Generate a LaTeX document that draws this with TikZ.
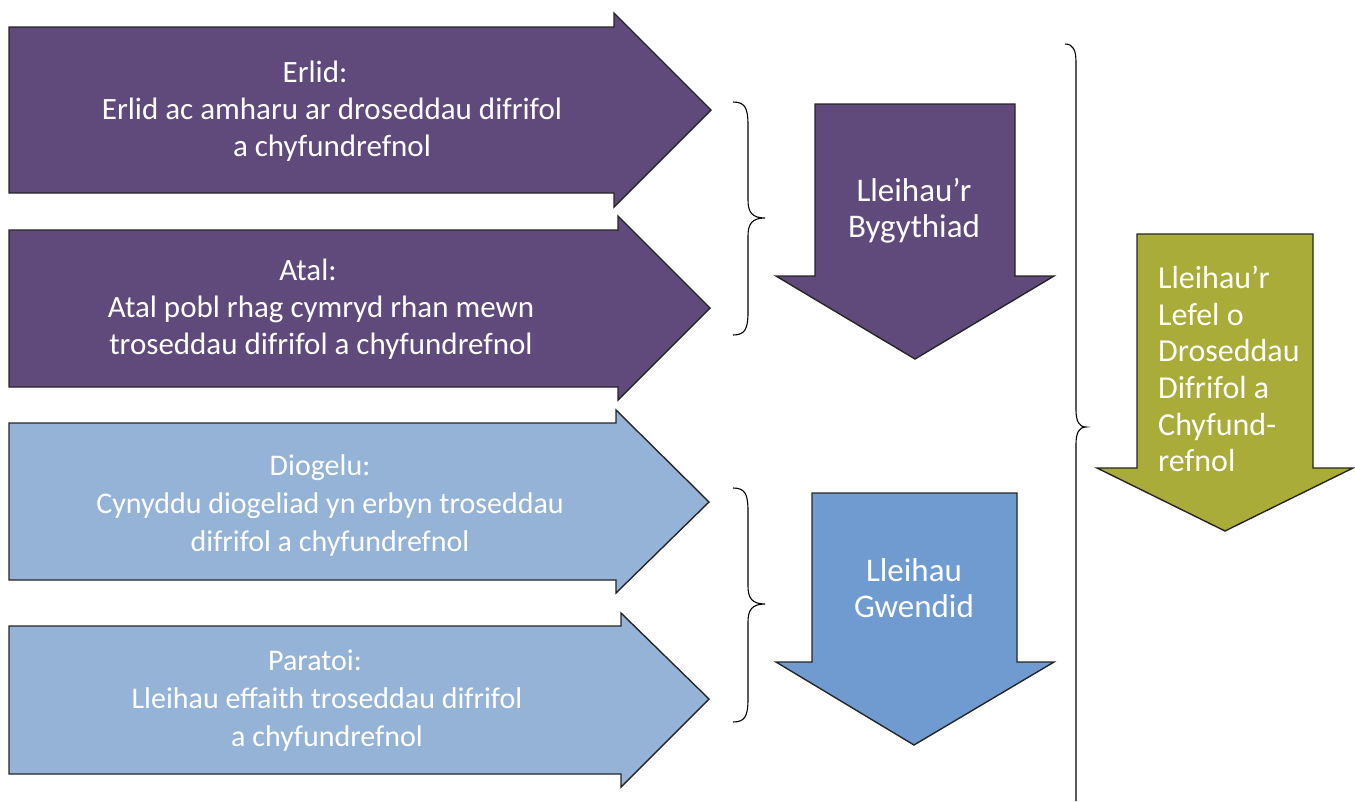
\documentclass[tikz,border=0pt]{standalone}
\usepackage{fontspec}
\setmainfont{Carlito}
\definecolor{purp}{HTML}{604A7B}
\definecolor{lblue}{HTML}{95B3D7}
\definecolor{mblue}{HTML}{6F9BD0}
\definecolor{olive}{HTML}{A9AC38}
\begin{document}
\begin{tikzpicture}[x=1pt,y=-1pt,
  shapeline/.style={draw=black!85,line width=1.4pt,line join=miter},
  bracepath/.style={draw=black,line width=1.1pt},
  lbl/.style={text=white,font=\fontsize{31}{37}\selectfont,align=center,inner sep=0pt},
  lblb/.style={lbl,font=\fontsize{30}{38}\selectfont},
  lbld/.style={lbl,font=\fontsize{33}{36}\selectfont},
  lblg/.style={lbl,font=\fontsize{32}{36.7}\selectfont}]
\useasboundingbox (0,0) rectangle (1355,801);
% purple arrows right
\path[shapeline,fill=purp] (9,27) -- (614,27) -- (614,13) -- (711,110) -- (614,207) -- (614,193) -- (9,193) -- cycle;
\path[shapeline,fill=purp] (9,230) -- (618,230) -- (618,216) -- (710,308) -- (618,400) -- (618,387) -- (9,387) -- cycle;
% blue arrows right
\path[shapeline,fill=lblue] (9,423) -- (616,423) -- (616,410) -- (709,502) -- (616,593) -- (616,580) -- (9,580) -- cycle;
\path[shapeline,fill=lblue] (9,626) -- (621,626) -- (621,613) -- (709,699) -- (621,787) -- (621,774) -- (9,774) -- cycle;
% down arrows
\path[shapeline,fill=purp] (815,104) -- (1015,104) -- (1015,276) -- (1054,276) -- (915,359) -- (776,276) -- (815,276) -- cycle;
\path[shapeline,fill=mblue] (812,493) -- (1017,493) -- (1017,662) -- (1054,662) -- (914,745) -- (776,662) -- (812,662) -- cycle;
\path[shapeline,fill=olive] (1137,234) -- (1313,234) -- (1313,468) -- (1353,468) -- (1225,531) -- (1097,468) -- (1137,468) -- cycle;
% braces
\path[bracepath] (733,102) .. controls (745,102) and (748,108) .. (748,125) -- (748,200) .. controls (748,212) and (752,218) .. (765,218) .. controls (752,218) and (748,224) .. (748,236) -- (748,312) .. controls (748,329) and (745,335) .. (733,335);
\path[bracepath] (733,488) .. controls (745,488) and (748,494) .. (748,511) -- (748,586) .. controls (748,598) and (752,604) .. (765,604) .. controls (752,604) and (748,610) .. (748,622) -- (748,699) .. controls (748,716) and (745,722) .. (733,722);
\path[bracepath] (1065,44) .. controls (1073,44) and (1076,50) .. (1076,62) -- (1076,410) .. controls (1076,421) and (1079,427) .. (1086,427) .. controls (1079,427) and (1076,433) .. (1076,444) -- (1076,801);
% labels
\node[lbl] (erlid) at (332,111) {Erlid:\hspace*{34pt}\\Erlid ac amharu ar droseddau difrifol\\a chyfundrefnol};
\node[lbl] (atal) at (321,309) {Atal:\hspace*{26pt}\\Atal pobl rhag cymryd rhan mewn\\troseddau difrifol a chyfundrefnol};
\node[lblb] (diog) at (330,505) {Diogelu:\hspace*{20pt}\\Cynyddu diogeliad yn erbyn troseddau\\difrifol a chyfundrefnol};
\node[lblb] (parat) at (327,701) {Paratoi:\hspace*{24pt}\\Lleihau effaith troseddau difrifol\\a chyfundrefnol};
\node[lbld] (byg) at (914,211) {Lleihau’r\\Bygythiad};
\node[lbld] (gwen) at (914,588) {Lleihau\\Gwendid};
\node[lblg,align=left,anchor=west] (lefel) at (1158,369) {Lleihau’r\\Lefel o\\Droseddau\\Difrifol a\\Chyfund-\\refnol};
\end{tikzpicture}
\end{document}
